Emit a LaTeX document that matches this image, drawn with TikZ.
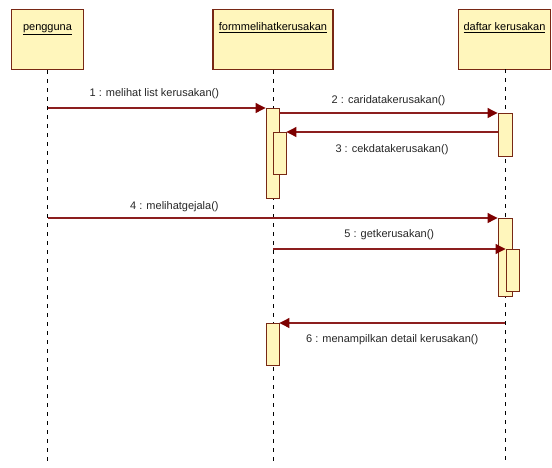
\documentclass[tikz,border=0pt]{standalone}
\usepackage{fontspec}
\setmainfont{Liberation Sans}
\usetikzlibrary{arrows.meta}
\definecolor{boxfill}{RGB}{255,246,188}
\definecolor{boxline}{RGB}{120,40,20}
\definecolor{msgline}{RGB}{140,30,30}
\definecolor{msghead}{RGB}{125,0,0}
\tikzset{
  headbox/.style={draw=boxline, line width=1.2pt, fill=boxfill, anchor=north,
    inner xsep=2pt, inner ysep=3pt, text height=18pt, text depth=36pt,
    font=\fontsize{11}{13}\selectfont},
  actbox/.style={draw=boxline, line width=0.9pt, fill=boxfill, anchor=north,
    minimum width=13pt, inner sep=0pt},
  lifeline/.style={black, line width=1pt, dash pattern=on 4pt off 5pt},
  msg/.style={draw=msgline, line width=1.1pt,
    -{Triangle[length=10pt,width=10pt,fill=msghead,color=msghead]}},
  msglabel/.style={font=\fontsize{11}{13}\selectfont, text=black!85, inner sep=1pt}
}
\begin{document}
\begin{tikzpicture}[x=1pt,y=-1pt]
  \useasboundingbox (0,0) rectangle (552,467);

  % object headers
  \node[headbox, minimum width=72pt]  (pengguna) at (47.5,9) {\underline{pengguna}};
  \node[headbox, minimum width=120pt] (form)     at (273,9)  {\underline{formmelihatkerusakan}};
  \node[headbox, minimum width=92pt]  (daftar)   at (504.5,9) {\underline{daftar kerusakan}};

  % lifelines
  \coordinate (pengguna-end) at (47.5,464);
  \coordinate (form-end)     at (273,464);
  \coordinate (daftar-top)   at (505,69);
  \coordinate (daftar-end)   at (505,464);
  \draw[lifeline] (pengguna.south) -- (pengguna-end);
  \draw[lifeline] (form.south) -- (form-end);
  \draw[lifeline] (daftar-top) -- (daftar-end);

  % activation bars
  \node[actbox, minimum height=90pt] (act1) at (272.5,108) {};
  \node[actbox, minimum height=42pt] (act1b) at (279.5,132) {};
  \node[actbox, minimum height=43pt, minimum width=14pt] (da1) at (505,113) {};
  \node[actbox, minimum height=78pt, minimum width=14pt] (da2) at (505,218) {};
  \node[actbox, minimum height=42pt] (da2b) at (512.5,249) {};
  \node[actbox, minimum height=42pt] (act3) at (272.5,323) {};

  % messages
  \draw[msg] (pengguna.south |- act1.north) -- (act1.north west)
    node[msglabel, pos=0.49, yshift=14pt] (m1) {1 : melihat list kerusakan()};
  \draw[msg] (act1.east |- da1.north) -- (da1.north west)
    node[msglabel, midway, yshift=12pt] (m2) {2 : caridatakerusakan()};
  \draw[msg] (da1.west |- act1b.north) -- (act1b.north east)
    node[msglabel, midway, yshift=-18pt] (m3) {3 : cekdatakerusakan()};
  \draw[msg] (pengguna.south |- da2.north) -- (da2.north west)
    node[msglabel, pos=0.282, yshift=11pt] (m4) {4 : melihatgejala()};
  \draw[msg] (form.south |- da2b.north) -- (da2b.north west)
    node[msglabel, midway, yshift=14pt] (m5) {5 : getkerusakan()};
  \draw[msg] (daftar-top |- act3.north) -- (act3.north east)
    node[msglabel, midway, yshift=-17pt] (m6) {6 : menampilkan detail kerusakan()};
\end{tikzpicture}
\end{document}
